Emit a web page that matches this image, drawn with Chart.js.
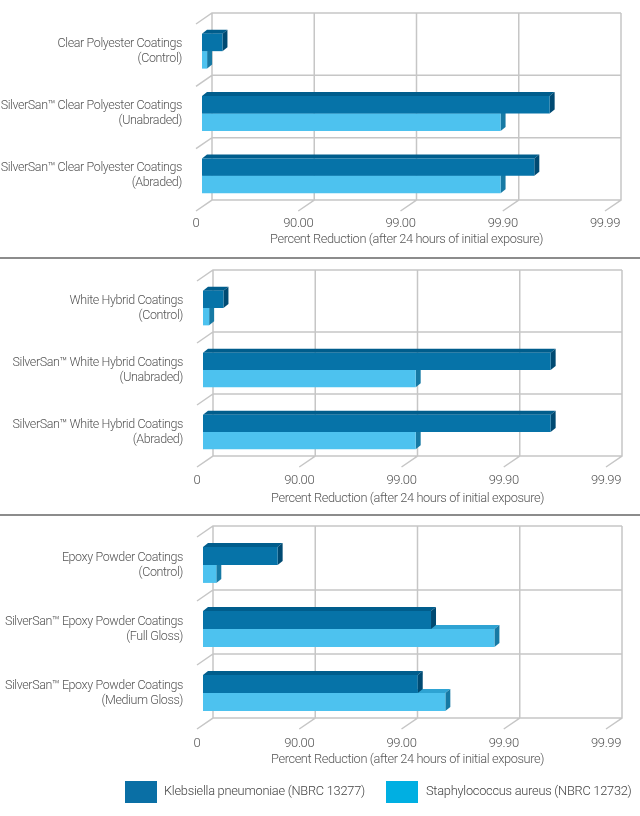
<!DOCTYPE html>
<html>
<head>
<meta charset="utf-8">
<script src="https://cdn.jsdelivr.net/npm/chart.js@4.4.1/dist/chart.umd.min.js"></script>
<style>
  body { margin: 0; background: #fff; width: 640px; height: 816px; position: relative; overflow: hidden; font-family: Roboto, sans-serif; }
  canvas { position: absolute; left: 0; }
  .sep { position: absolute; left: 0; width: 640px; height: 2px; background: #8c8c8c; }
  .box { position: absolute; width: 32px; height: 22px; top: 781px; }
  .lbl { position: absolute; top: 783px; font-size: 12.8px; letter-spacing: -0.25px; color: #444; font-weight: 300; white-space: nowrap; }
</style>
</head>
<body>
<canvas id="c1" width="640" height="258" style="top:0"></canvas>
<div class="sep" style="top:257px"></div>
<canvas id="c2" width="640" height="256" style="top:259px"></canvas>
<div class="sep" style="top:514px"></div>
<canvas id="c3" width="640" height="300" style="top:516px"></canvas>

<div class="box" style="left:125px;background:#0a6fa5"></div>
<div class="lbl" style="left:164px">Klebsiella pneumoniae (NBRC 13277)</div>
<div class="box" style="left:386px;background:#00afe2"></div>
<div class="lbl" style="left:426px">Staphylococcus aureus (NBRC 12732)</div>

<script>
// x axis is log reduction: 0 -> 0 %, 1 -> 90 %, 2 -> 99 %, 3 -> 99.9 %, 4 -> 99.99 %
const tickLabels = ["0", "90.00", "99.00", "99.90", "99.99"];
const axisTitle = "Percent Reduction (after 24 hours of initial exposure)";
const seriesNames = ["Klebsiella pneumoniae (NBRC 13277)", "Staphylococcus aureus (NBRC 12732)"];

const polyesterCats = [
  ["Clear Polyester Coatings", "(Control)"],
  ["SilverSan™ Clear Polyester Coatings", "(Unabraded)"],
  ["SilverSan™ Clear Polyester Coatings", "(Abraded)"]
];
const polyesterKleb = [0.2, 3.4, 3.25];
const polyesterStaph = [0.05, 2.92, 2.92];

const hybridCats = [
  ["White Hybrid Coatings", "(Control)"],
  ["SilverSan™ White Hybrid Coatings", "(Unabraded)"],
  ["SilverSan™ White Hybrid Coatings", "(Abraded)"]
];
const hybridKleb = [0.2, 3.4, 3.4];
const hybridStaph = [0.06, 2.08, 2.08];

const epoxyCats = [
  ["Epoxy Powder Coatings", "(Control)"],
  ["SilverSan™ Epoxy Powder Coatings", "(Full Gloss)"],
  ["SilverSan™ Epoxy Powder Coatings", "(Medium Gloss)"]
];
const epoxyKleb = [0.73, 2.23, 2.10];
const epoxyStaph = [0.13, 2.85, 2.37];

const FONT = "Roboto";
const TEXT = "#555";
const GRID = "#c6c6c6";
// depth of the box: back wall sits up-right of the bar plane, floor front edge down-left
const BX = 10, BY = 7, FX = 6, FY = 4;
// bar depth
const DX = 5, DY = 4;

const faces = [
  { top: "#005d8c", side: "#004a72" },   // Klebsiella
  { top: "#2ea3d3", side: "#1679a4" }    // Staphylococcus
];

const boxPlugin = {
  id: "box3d",
  beforeDraw(chart) {
    // the original lettering is a narrow face
    chart.ctx.letterSpacing = "-0.4px";
  },
  beforeDatasetsDraw(chart) {
    const ctx = chart.ctx;
    const { top, bottom, left, right } = chart.chartArea;
    const xs = chart.scales.x, ys = chart.scales.y;
    ctx.save();
    ctx.strokeStyle = GRID;
    ctx.lineWidth = 1.5;
    ctx.beginPath();
    xs.ticks.forEach(t => {
      const x = xs.getPixelForValue(t.value) + BX;
      ctx.moveTo(x, top - BY);
      ctx.lineTo(x, bottom - BY);
      ctx.lineTo(x - BX - FX, bottom + FY);
    });
    const n = chart.data.labels.length;
    const rows = [top];
    for (let i = 0; i < n - 1; i++) {
      rows.push((ys.getPixelForValue(i) + ys.getPixelForValue(i + 1)) / 2);
    }
    rows.push(bottom);
    rows.forEach(y => {
      ctx.moveTo(right + BX, y - BY);
      ctx.lineTo(left + BX, y - BY);
      ctx.lineTo(left - FX, y + FY);
    });
    ctx.stroke();

    // top and side faces of the bars, light series first
    [1, 0].forEach(di => {
      const meta = chart.getDatasetMeta(di);
      meta.data.forEach(bar => {
        const p = bar.getProps(["x", "y", "base", "height"], true);
        const t = p.y - p.height / 2, b = p.y + p.height / 2;
        ctx.fillStyle = faces[di].top;
        ctx.beginPath();
        ctx.moveTo(p.base, t);
        ctx.lineTo(p.base + DX, t - DY);
        ctx.lineTo(p.x + DX, t - DY);
        ctx.lineTo(p.x, t);
        ctx.closePath();
        ctx.fill();
        ctx.fillStyle = faces[di].side;
        ctx.beginPath();
        ctx.moveTo(p.x, t);
        ctx.lineTo(p.x + DX, t - DY);
        ctx.lineTo(p.x + DX, b - DY);
        ctx.lineTo(p.x, b);
        ctx.closePath();
        ctx.fill();
      });
    });
    ctx.restore();
  }
};

function makePanel(id, cats, kleb, staph, box) {
  const h = document.getElementById(id).height;
  return new Chart(document.getElementById(id), {
    type: "bar",
    data: {
      labels: cats,
      datasets: [
        { label: seriesNames[0], data: kleb, backgroundColor: "#0673a8" },
        { label: seriesNames[1], data: staph, backgroundColor: "#4dc2ef" }
      ]
    },
    options: {
      indexAxis: "y",
      responsive: false,
      animation: false,
      layout: { padding: { top: box.top, right: 640 - box.right, left: 0, bottom: 0 } },
      datasets: { bar: { barPercentage: 1, categoryPercentage: 0.56, borderWidth: 0 } },
      plugins: { legend: { display: false }, tooltip: { enabled: false } },
      scales: {
        x: {
          min: 0, max: 4,
          grid: { display: false },
          border: { display: false },
          afterFit: s => { s.height = h - box.bottom; s.paddingLeft = 0; s.paddingRight = 0; },
          ticks: {
            stepSize: 1,
            padding: box.tickPad,
            labelOffset: -FX,
            color: TEXT,
            font: { family: FONT, size: 13, weight: "300" },
            callback: (v) => tickLabels[v]
          },
          title: {
            display: true,
            text: axisTitle,
            color: TEXT,
            font: { family: FONT, size: 12.8, weight: "300" },
            padding: { top: 0, bottom: box.titlePad }
          }
        },
        y: {
          grid: { display: false },
          border: { display: false },
          afterFit: s => { s.width = box.left; s.paddingTop = 0; s.paddingBottom = 0; },
          ticks: {
            padding: 12,
            color: TEXT,
            font: { family: FONT, size: 12.5, weight: "300", lineHeight: 1.2 }
          }
        }
      }
    },
    plugins: [boxPlugin]
  });
}

makePanel("c1", polyesterCats, polyesterKleb, polyesterStaph,
  { top: 20, bottom: 207, left: 202, right: 611, tickPad: 1, titlePad: 11 });
makePanel("c2", hybridCats, hybridKleb, hybridStaph,
  { top: 18, bottom: 204, left: 203, right: 612, tickPad: 2, titlePad: 9 });
makePanel("c3", epoxyCats, epoxyKleb, epoxyStaph,
  { top: 17, bottom: 209, left: 203, right: 612, tickPad: 3, titlePad: 49 });
</script>
</body>
</html>
